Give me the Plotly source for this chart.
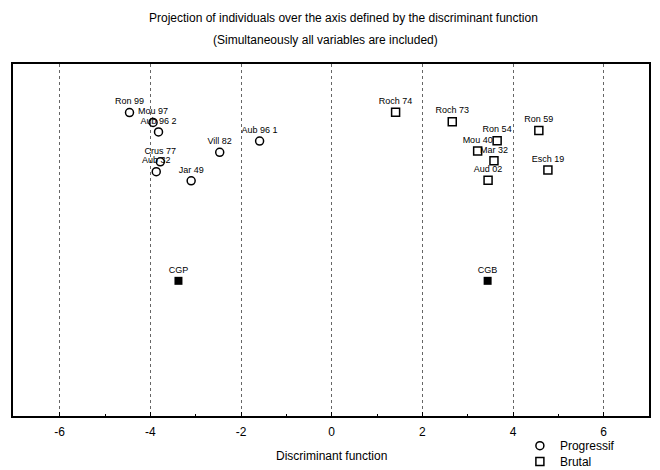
import plotly.graph_objects as go

# Progressif group (circles)
prog_names = ["Ron 99", "Mou 97", "Aub 96 2", "Vill 82", "Aub 96 1", "Crus 77", "Aub 32", "Jar 49"]
prog_x = [-4.46, -3.94, -3.82, -2.47, -1.59, -3.78, -3.87, -3.10]
prog_y = [8.62, 8.34, 8.07, 7.49, 7.81, 7.22, 6.94, 6.68]

# Brutal group (squares)
brut_names = ["Roch 74", "Roch 73", "Ron 54", "Mou 40", "Mar 32", "Aud 02", "Ron 59", "Esch 19"]
brut_x = [1.41, 2.66, 3.65, 3.22, 3.58, 3.45, 4.57, 4.77]
brut_y = [8.63, 8.36, 7.82, 7.53, 7.25, 6.70, 8.11, 6.99]

# Group centroids
cent_names = ["CGP", "CGB"]
cent_x = [-3.38, 3.44]
cent_y = [3.84, 3.84]

x_ticks = [-6, -4, -2, 0, 2, 4, 6]
x_tick_labels = ["-6", "-4", "-2", "0", "2", "4", "6"]

label_font = dict(family="Liberation Sans, Arial", size=9, color="black")

fig = go.Figure()
fig.add_trace(go.Scatter(
    x=prog_x, y=prog_y, mode="markers+text", name="Progressif", legend="legend",
    text=prog_names, textposition="top center", textfont=label_font,
    marker=dict(symbol="circle-open", size=8, color="black", line=dict(width=1.5)),
))
fig.add_trace(go.Scatter(
    x=brut_x, y=brut_y, mode="markers+text", name="Brutal", legend="legend2",
    text=brut_names, textposition="top center", textfont=label_font,
    marker=dict(symbol="square-open", size=8, color="black", line=dict(width=1.5)),
))
fig.add_trace(go.Scatter(
    x=cent_x, y=cent_y, mode="markers+text", name="Centroids", showlegend=False,
    text=cent_names, textposition="top center", textfont=label_font,
    marker=dict(symbol="square", size=8, color="black"),
))

legend_common = dict(xanchor="left", yanchor="top", bgcolor="rgba(0,0,0,0)", font=dict(size=12))

fig.update_layout(
    width=652, height=462,
    margin=dict(l=5, r=11, t=56, b=54, autoexpand=False),
    paper_bgcolor="white", plot_bgcolor="white",
    font=dict(family="Liberation Sans, Arial", size=12, color="black"),
    showlegend=True,
    legend=dict(x=0.797, y=-0.043, **legend_common),
    legend2=dict(x=0.797, y=-0.088, **legend_common),
    annotations=[
        dict(text="Projection of individuals over the axis defined by the discriminant function",
             xref="paper", yref="paper", x=(343 - 13) / 636, y=1.0, yshift=46,
             showarrow=False, xanchor="center", yanchor="middle", font=dict(size=12)),
        dict(text="(Simultaneously all variables are included)",
             xref="paper", yref="paper", x=(325 - 13) / 636, y=1.0, yshift=24,
             showarrow=False, xanchor="center", yanchor="middle", font=dict(size=12)),
        dict(text="Discriminant function",
             xref="paper", yref="paper", x=(331 - 13) / 636, y=0, yshift=-40,
             showarrow=False, xanchor="center", yanchor="middle", font=dict(size=12)),
    ],
)

fig.update_xaxes(
    range=[-7.03, 7.0],
    tickmode="array", tickvals=x_ticks, ticktext=x_tick_labels,
    ticks="inside", ticklen=4, tickcolor="black", ticklabelstandoff=4,
    minor=dict(tickvals=[-5, -3, -1, 1, 3, 5], ticks="inside", ticklen=2, tickcolor="black"),
    showgrid=True, gridcolor="#666666", griddash="dot", gridwidth=1,
    zeroline=False,
    showline=True, linecolor="black", linewidth=1.5, mirror=True,
    tickfont=dict(size=12),
)
fig.update_yaxes(
    range=[0, 10],
    showticklabels=False, ticks="", showgrid=False, zeroline=False,
    showline=True, linecolor="black", linewidth=1.5, mirror=True,
)

fig.write_html("out.html")
